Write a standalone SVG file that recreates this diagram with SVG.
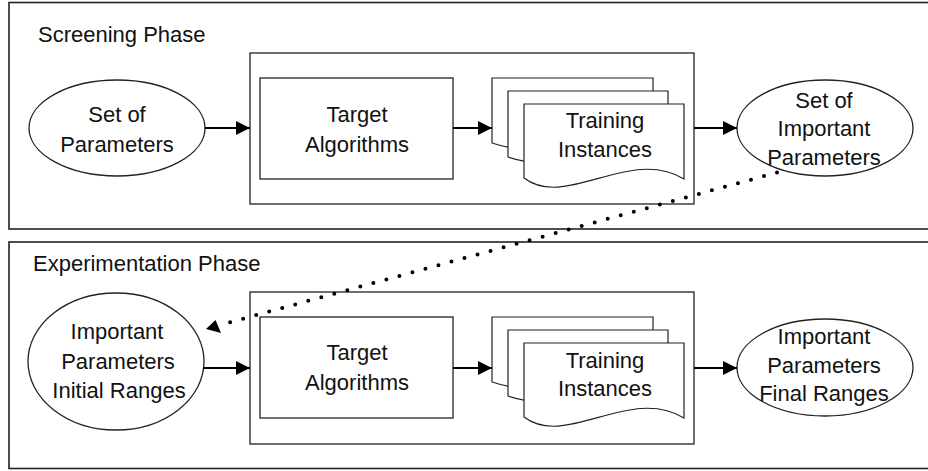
<svg xmlns="http://www.w3.org/2000/svg" width="928" height="471" viewBox="0 0 928 471">
  <defs>
    <style>
      .frame { fill: none; stroke: #222; stroke-width: 1.6; }
      .box { fill: #fff; stroke: #222; stroke-width: 1.3; }
      .doc { fill: #fff; stroke: #222; stroke-width: 1.2; }
      .label { font-family: "Liberation Sans", Arial, sans-serif; font-size: 22px; fill: #111; }
      .mid { text-anchor: middle; }
      .flow { fill: none; stroke: #000; stroke-width: 2; }
      .dots { fill: none; stroke: #000; stroke-width: 4; stroke-linecap: round; stroke-dasharray: 0 13.5; }
    </style>
    <marker id="head" markerUnits="userSpaceOnUse" markerWidth="16" markerHeight="14" refX="14" refY="7" orient="auto">
      <path d="M0,0 L14,7 L0,14 Z" fill="#000"/>
    </marker>
  </defs>
  <rect width="928" height="471" fill="#fff"/>

  <!-- phase frames (run off the right edge) -->
  <g id="screening-phase">
    <rect class="frame" x="9" y="2.5" width="940" height="226.5"/>
    <text class="label" x="38" y="42">Screening Phase</text>
  </g>
  <g id="experimentation-phase">
    <rect class="frame" x="9" y="242" width="940" height="226.5"/>
    <text class="label" x="33" y="271">Experimentation Phase</text>
  </g>

  <!-- screening phase nodes -->
  <g id="set-of-parameters">
    <ellipse class="box" cx="117" cy="128" rx="88" ry="48"/>
    <text class="label mid" x="117" y="122">Set of</text>
    <text class="label mid" x="117" y="152">Parameters</text>
  </g>
  <g id="screening-runner">
    <rect class="box" x="250" y="53" width="444" height="151"/>
  </g>
  <g id="screening-algorithms">
    <rect class="box" x="260" y="78" width="193" height="101"/>
    <text class="label mid" x="357" y="122">Target</text>
    <text class="label mid" x="357" y="152">Algorithms</text>
  </g>
  <g id="screening-instances">
    <path class="doc" d="M492,78 H653 V142 C600,118 560,166 492,143 Z"/>
    <path class="doc" d="M508,91 H668 V156 C616,132 570,178 508,157 Z"/>
    <path class="doc" d="M524,104 H684 V179 C630,146 566,210 524,178 Z"/>
    <text class="label mid" x="605" y="128">Training</text>
    <text class="label mid" x="605" y="157">Instances</text>
  </g>
  <g id="set-of-important-parameters">
    <ellipse class="box" cx="825" cy="128" rx="88" ry="48"/>
    <text class="label mid" x="824" y="108">Set of</text>
    <text class="label mid" x="824" y="136">Important</text>
    <text class="label mid" x="824" y="165">Parameters</text>
  </g>

  <!-- experimentation phase nodes -->
  <g id="initial-ranges">
    <ellipse class="box" cx="116" cy="361.5" rx="88" ry="68.5"/>
    <text class="label mid" x="117" y="339">Important</text>
    <text class="label mid" x="118" y="369">Parameters</text>
    <text class="label mid" x="119" y="398">Initial Ranges</text>
  </g>
  <g id="experimentation-runner">
    <rect class="box" x="250" y="292" width="444" height="152"/>
  </g>
  <g id="experimentation-algorithms">
    <rect class="box" x="260" y="317" width="193" height="101"/>
    <text class="label mid" x="357" y="360">Target</text>
    <text class="label mid" x="357" y="390">Algorithms</text>
  </g>
  <g id="experimentation-instances" transform="translate(0,239)">
    <path class="doc" d="M492,78 H653 V142 C600,118 560,166 492,143 Z"/>
    <path class="doc" d="M508,91 H668 V156 C616,132 570,178 508,157 Z"/>
    <path class="doc" d="M524,104 H684 V179 C630,146 566,210 524,178 Z"/>
    <text class="label mid" x="605" y="129">Training</text>
    <text class="label mid" x="605" y="157">Instances</text>
  </g>
  <g id="final-ranges">
    <ellipse class="box" cx="825" cy="367.5" rx="88" ry="48.5"/>
    <text class="label mid" x="824" y="344">Important</text>
    <text class="label mid" x="824" y="373">Parameters</text>
    <text class="label mid" x="824" y="401">Final Ranges</text>
  </g>

  <!-- connectors -->
  <g id="connectors">
    <path class="flow" d="M205,128 H250" marker-end="url(#head)"/>
    <path class="flow" d="M453,128 H492" marker-end="url(#head)"/>
    <path class="flow" d="M694,128 H737" marker-end="url(#head)"/>
    <path class="flow" d="M203,368 H250" marker-end="url(#head)"/>
    <path class="flow" d="M453,368 H492" marker-end="url(#head)"/>
    <path class="flow" d="M694,368 H737" marker-end="url(#head)"/>
    <path class="dots" d="M777,172.5 L220,325"/>
    <path d="M206,329 L215.5,320 L221,333 Z" fill="#000"/>
  </g>
</svg>
